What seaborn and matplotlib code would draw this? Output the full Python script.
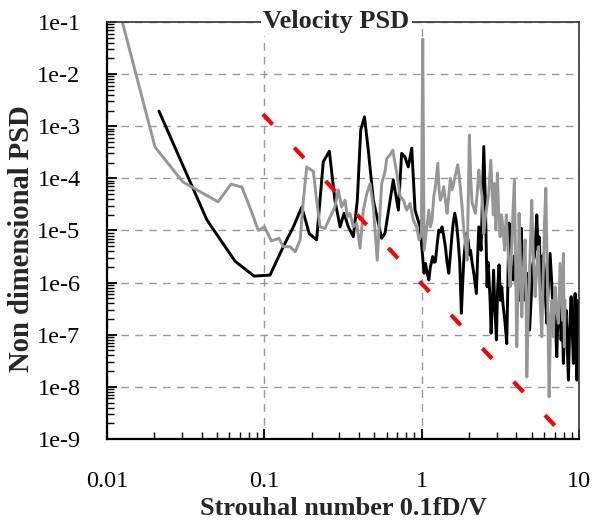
import numpy as np
import matplotlib
matplotlib.use("Agg")
import matplotlib.pyplot as plt
import seaborn as sns
from matplotlib.ticker import LogLocator, NullFormatter

# ---------------- data ----------------
# Strouhal number values and log10(PSD) for the black series
black_st = [0.0214, 0.0432, 0.0652, 0.0861, 0.1087, 0.132, 0.153, 0.173, 0.193, 0.215,
            0.237, 0.259, 0.281, 0.303, 0.321, 0.342, 0.368, 0.390, 0.410, 0.433,
            0.458, 0.493, 0.557, 0.585, 0.630, 0.660, 0.711, 0.746, 0.783, 0.822,
            0.865, 0.908, 0.977,
            1.010, 1.036, 1.056, 1.082, 1.110, 1.136, 1.176, 1.199, 1.222, 1.253,
            1.285, 1.315, 1.348, 1.382, 1.415, 1.450, 1.487, 1.522, 1.561, 1.590,
            1.623, 1.662, 1.704, 1.747, 1.788, 1.820, 1.852, 1.888, 1.924, 1.972,
            2.017, 2.046, 2.091, 2.153, 2.227, 2.267, 2.307, 2.351, 2.386, 2.432,
            2.482, 2.511, 2.541, 2.574, 2.605, 2.643, 2.682, 2.722, 2.762, 2.823,
            2.865, 2.907, 2.985, 3.038, 3.105, 3.174, 3.230, 3.292, 3.390, 3.475,
            3.542, 3.594, 3.674, 3.755, 3.827, 3.923, 4.010, 4.099, 4.160, 4.240,
            4.303, 4.367, 4.431, 4.543, 4.658, 4.747, 4.852, 4.960, 5.070, 5.205,
            5.297, 5.391, 5.495, 5.576, 5.700, 5.826, 5.912, 6.026, 6.133, 6.241,
            6.361, 6.550, 6.696, 6.845, 7.047, 7.151, 7.224, 7.363, 7.526, 7.694,
            7.830, 7.957, 8.098, 8.279, 8.425, 8.562, 8.714, 8.907, 9.066, 9.213,
            9.335, 9.445, 9.555, 9.683, 9.797, 9.868]
black_log_psd = [-2.71, -4.80, -5.59, -5.875, -5.856, -5.31, -4.93, -4.55, -5.06, -5.18,
                 -3.68, -3.48, -4.42, -4.93, -4.67, -4.93, -5.12, -4.42, -3.07, -2.82,
                 -3.46, -4.42, -5.15, -5.05, -4.42, -4.03, -4.61, -3.52, -3.59, -3.78,
                 -3.42, -4.61, -4.93,
                 -5.44, -5.82, -5.63, -5.80, -5.95, -5.70, -5.50, -5.61, -5.60, -5.28,
                 -4.99, -5.03, -4.93, -5.11, -5.31, -5.61, -5.82, -5.47, -5.06, -4.84,
                 -4.67, -4.84, -5.18, -5.63, -6.59, -6.05, -5.57, -5.28, -5.06, -5.18,
                 -5.47, -5.38, -5.61, -5.86, -6.21, -5.53, -4.93, -5.18, -5.38, -4.42,
                 -3.39, -3.94, -4.48, -5.38, -6.08, -5.61, -5.95, -6.34, -6.97, -6.34,
                 -5.76, -6.34, -7.10, -6.14, -5.66, -6.34, -6.08, -6.43, -6.78, -7.17,
                 -5.76, -4.86, -5.47, -5.86, -5.95, -5.47, -6.14, -5.76, -6.34, -5.38,
                 -4.96, -5.95, -6.01, -6.34, -5.82, -6.34, -6.91, -6.34, -5.66, -5.50,
                 -5.18, -4.70, -5.38, -5.12, -5.86, -6.34, -5.47, -5.76, -6.34, -6.78,
                 -6.14, -5.44, -5.95, -6.62, -6.34, -7.10, -7.42, -6.53, -6.34, -7.10,
                 -6.72, -7.55, -6.91, -6.53, -7.20, -7.87, -6.91, -6.27, -6.91, -7.55,
                 -6.72, -6.21, -7.10, -7.87, -6.72, -6.34]

# grey series
gray_st = [0.0101, 0.0202, 0.0304, 0.0508, 0.0614, 0.0721, 0.0836, 0.0916, 0.1003, 0.1108,
           0.124, 0.132, 0.146, 0.157, 0.169, 0.177, 0.186, 0.205, 0.215, 0.226,
           0.243, 0.262, 0.281, 0.295, 0.310, 0.326, 0.337, 0.350, 0.368, 0.386,
           0.406, 0.426, 0.448, 0.470, 0.493, 0.522, 0.557, 0.585, 0.600, 0.630,
           0.655, 0.695, 0.730, 0.766, 0.803, 0.843, 0.885, 0.929,
           0.963, 0.995, 1.016, 1.037, 1.056, 1.082, 1.110, 1.136, 1.164, 1.194,
           1.226, 1.266, 1.290, 1.315, 1.348, 1.382, 1.415, 1.450, 1.487, 1.522,
           1.554, 1.584, 1.612, 1.638, 1.667, 1.696, 1.729, 1.767, 1.806, 1.852,
           1.901, 1.944, 1.978, 2.010, 2.052, 2.091, 2.144, 2.195, 2.250, 2.307,
           2.361, 2.421, 2.482, 2.541, 2.605, 2.663, 2.750, 2.803, 2.852, 2.899,
           2.959, 3.029, 3.083, 3.151, 3.221, 3.292, 3.365, 3.450, 3.542, 3.594,
           3.648, 3.728, 3.811, 3.884, 3.953, 4.023, 4.099, 4.160, 4.240, 4.328,
           4.424, 4.543, 4.610, 4.658, 4.747, 4.852, 5.011, 5.108, 5.260, 5.376,
           5.519, 5.659, 5.802, 5.912, 6.044, 6.151, 6.270, 6.361, 6.455, 6.598,
           6.725, 6.875, 6.977, 7.047, 7.205, 7.396, 7.494, 7.583, 7.751, 7.855,
           7.957, 8.064, 8.159]
gray_log_psd = [0.08, -3.40, -4.07, -4.45, -4.11, -4.17, -4.67, -5.00, -4.93, -5.20,
                -5.15, -5.31, -5.31, -5.41, -5.18, -4.42, -3.78, -3.87, -4.42, -4.93,
                -4.96, -4.74, -4.55, -4.22, -4.55, -4.42, -4.74, -4.67, -4.93, -4.86,
                -5.34, -4.61, -4.29, -4.10, -4.55, -5.57, -4.10, -3.87, -3.62, -3.55,
                -3.46, -3.90, -4.35, -4.42, -4.61, -4.48, -4.80, -4.93,
                -5.18, -5.09, -1.33, -5.38, -5.18, -4.90, -4.61, -4.93, -4.80, -4.35,
                -4.13, -3.71, -4.22, -4.42, -4.32, -4.16, -4.42, -4.67, -4.32, -4.00,
                -4.22, -4.16, -4.03, -3.94, -3.84, -3.74, -3.94, -4.22, -4.54, -4.99,
                -5.28, -5.57, -4.42, -3.17, -4.03, -4.47, -4.57, -4.67, -4.32, -3.84,
                -4.13, -4.35, -5.06, -4.74, -4.51, -4.32, -3.65, -4.22, -4.70, -4.10,
                -4.99, -3.90, -4.61, -5.12, -4.70, -4.99, -5.38, -4.70, -5.38, -5.76,
                -6.08, -5.38, -4.61, -4.03, -5.57, -7.23, -6.14, -4.67, -5.57, -6.66,
                -5.76, -5.18, -6.34, -7.81, -6.72, -5.76, -4.42, -5.38, -6.27, -5.76,
                -5.31, -6.34, -7.04, -5.95, -4.80, -4.19, -5.57, -6.91, -8.19, -6.72,
                -6.34, -7.04, -6.34, -6.08, -6.53, -6.78, -6.14, -5.63, -6.34, -6.72,
                -5.44, -7.23, -6.34]

# red dashed reference slope
ref_st = [0.098, 7.15]
ref_psd = [1.7e-3, 1.7e-9]

x_ticks = [0.01, 0.1, 1, 10]
x_tick_labels = ["0.01", "0.1", "1", "10"]
y_ticks = [1e-9, 1e-8, 1e-7, 1e-6, 1e-5, 1e-4, 1e-3, 1e-2, 1e-1]
y_tick_labels = ["1e-9", "1e-8", "1e-7", "1e-6", "1e-5", "1e-4", "1e-3", "1e-2", "1e-1"]

# ---------------- plot ----------------
sns.set_style("white")
plt.rcParams["font.family"] = ["Liberation Serif", "DejaVu Serif"]
plt.rcParams["axes.unicode_minus"] = False

fig = plt.figure(figsize=(5.93, 5.23), dpi=100)
ax = fig.add_axes([0.1804, 0.1606, 0.7960, 0.7974])
ax.set_xscale("log")
ax.set_yscale("log")

ax.grid(True, which="major", color="#9a9a9a", linestyle=(0, (5.5, 4.5)), linewidth=1.0)
ax.set_axisbelow(True)

sns.lineplot(x=np.array(black_st), y=10 ** np.array(black_log_psd), ax=ax,
             color="black", linewidth=2.1, estimator=None, sort=False, legend=False)
sns.lineplot(x=np.array(gray_st), y=10 ** np.array(gray_log_psd), ax=ax,
             color="#969696", linewidth=2.1, estimator=None, sort=False, legend=False)
ax.plot(ref_st, ref_psd, color="#ff0000", linewidth=3.0, dashes=(3.4, 7.6),
        dash_capstyle="butt")

ax.set_xlim(0.01, 10)
ax.set_ylim(1e-9, 1e-1)
ax.set_xticks(x_ticks)
ax.set_xticklabels(x_tick_labels)
ax.set_yticks(y_ticks)
ax.set_yticklabels(y_tick_labels)
ax.xaxis.set_minor_locator(LogLocator(base=10, subs=np.arange(2, 10), numticks=20))
ax.yaxis.set_minor_locator(LogLocator(base=10, subs=np.arange(2, 10), numticks=20))
ax.xaxis.set_minor_formatter(NullFormatter())
ax.yaxis.set_minor_formatter(NullFormatter())

ax.tick_params(which="both", direction="in", left=True, bottom=True, top=False, right=False,
               colors="black", labelsize=17.5)
ax.tick_params(which="major", length=7, width=1.3)
ax.tick_params(which="minor", length=5, width=1.0)
ax.tick_params(axis="x", which="major", pad=23)
ax.tick_params(axis="y", which="major", pad=19)

for side in ["left", "bottom"]:
    ax.spines[side].set_color("black")
    ax.spines[side].set_linewidth(1.6)
for side in ["top", "right"]:
    ax.spines[side].set_color("#333333")
    ax.spines[side].set_linewidth(1.2)

ax.set_xlabel("Strouhal number 0.1fD/V", fontsize=19, fontweight="bold")
ax.set_ylabel("Non dimensional PSD", fontsize=20.6, fontweight="bold")
ax.xaxis.set_label_coords(0.5, -0.138)
ax.yaxis.set_label_coords(-0.152, 0.48)

ax.text(0.486, 1.0, "Velocity PSD", transform=ax.transAxes, ha="center", va="center",
        fontsize=19, fontweight="bold", zorder=10,
        bbox=dict(facecolor="white", edgecolor="none", pad=1.5))

fig.savefig("out.png", dpi=100)
